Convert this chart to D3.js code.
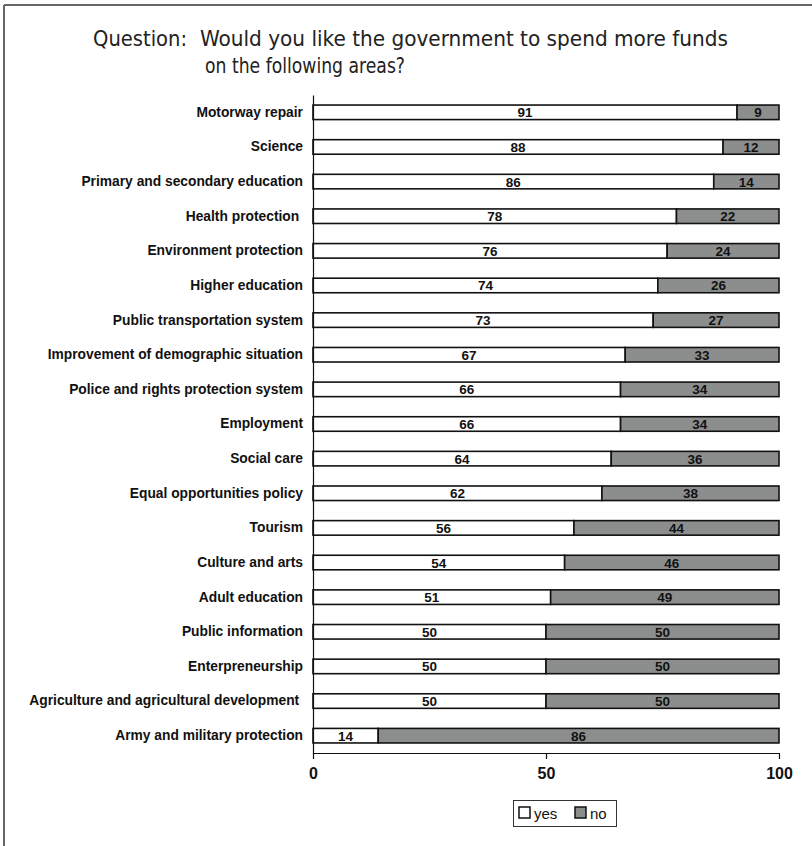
<!DOCTYPE html>
<html>
<head>
<meta charset="utf-8">
<script src="https://cdn.jsdelivr.net/npm/d3@7"></script>
<style>
  html, body { margin: 0; padding: 0; background: #fff; }
  svg { display: block; }
</style>
</head>
<body>
<svg id="chart" width="812" height="846"></svg>
<script>
const categories = [
  "Motorway repair",
  "Science",
  "Primary and secondary education",
  "Health protection ",
  "Environment protection",
  "Higher education",
  "Public transportation system",
  "Improvement of demographic situation",
  "Police and rights protection system",
  "Employment",
  "Social care",
  "Equal opportunities policy",
  "Tourism",
  "Culture and arts",
  "Adult education",
  "Public information",
  "Enterpreneurship",
  "Agriculture and agricultural development ",
  "Army and military protection"
];
const yesValues = [91, 88, 86, 78, 76, 74, 73, 67, 66, 66, 64, 62, 56, 54, 51, 50, 50, 50, 14];
const noValues  = [9, 12, 14, 22, 24, 26, 27, 33, 34, 34, 36, 38, 44, 46, 49, 50, 50, 50, 86];
const xTicks = [0, 50, 100];
const seriesNames = ["yes", "no"];
const seriesColors = ["#ffffff", "#8c8e8e"];
const titleLead = "Question:";
const titleLines = ["Would you like the government to spend more funds", "on the following areas?"];

const svg = d3.select("#chart");

// partial frame
svg.append("line").attr("x1", 4).attr("x2", 812).attr("y1", 5).attr("y2", 5)
  .attr("stroke", "#666").attr("stroke-width", 2);
svg.append("line").attr("x1", 4).attr("x2", 4).attr("y1", 5).attr("y2", 846)
  .attr("stroke", "#666").attr("stroke-width", 2);

// title
const titleFont = "'DejaVu Sans Condensed', 'Liberation Sans Narrow', sans-serif";
const tg = svg.append("g").attr("font-family", titleFont).attr("font-size", 21).attr("fill", "#222");
tg.append("text").attr("x", 93).attr("y", 46).text(titleLead)
  .attr("textLength", 94).attr("lengthAdjust", "spacingAndGlyphs");
tg.append("text").attr("x", 200).attr("y", 46).text(titleLines[0])
  .attr("textLength", 528).attr("lengthAdjust", "spacingAndGlyphs");
tg.append("text").attr("x", 205).attr("y", 73).text(titleLines[1])
  .attr("textLength", 200).attr("lengthAdjust", "spacingAndGlyphs");

const x = d3.scaleLinear().domain([0, 100]).range([313, 779]);
const y = d3.scaleBand().domain(categories).range([95, 753]).paddingInner(0.58).paddingOuter(0.29);

const font = "'Liberation Sans', Arial, sans-serif";

// bars
const stackData = categories.map((c, i) => ({cat: c, yes: yesValues[i], no: noValues[i]}));
const stack = d3.stack().keys(seriesNames)(stackData);

stack.forEach((layer, li) => {
  const g = svg.append("g");
  g.selectAll("rect").data(layer).enter().append("rect")
    .attr("x", d => x(d[0]))
    .attr("y", d => y(d.data.cat))
    .attr("width", d => x(d[1]) - x(d[0]))
    .attr("height", y.bandwidth())
    .attr("fill", seriesColors[li])
    .attr("stroke", "#111")
    .attr("stroke-width", 1.6);
  g.selectAll("text").data(layer).enter().append("text")
    .attr("x", d => (x(d[0]) + x(d[1])) / 2)
    .attr("y", d => y(d.data.cat) + y.bandwidth() / 2 + 5)
    .attr("text-anchor", "middle")
    .attr("font-family", font).attr("font-weight", "bold").attr("font-size", 13.5)
    .attr("fill", "#111")
    .text(d => d[1] - d[0]);
});

// y axis
const yAxis = svg.append("g").attr("transform", `translate(${x(0)},0)`)
  .call(d3.axisLeft(y).tickSize(0).tickPadding(10));
yAxis.select(".domain").attr("stroke", "#111").attr("stroke-width", 1.2);
yAxis.selectAll("text")
  .attr("font-family", font).attr("font-weight", "bold").attr("font-size", 13.8)
  .attr("fill", "#111").style("white-space", "pre");

// x axis
const xAxis = svg.append("g").attr("transform", `translate(0,753)`)
  .call(d3.axisBottom(x).tickValues(xTicks).tickSize(6).tickPadding(9).tickSizeOuter(0));
xAxis.select(".domain").attr("stroke", "#111").attr("stroke-width", 1.2);
xAxis.selectAll(".tick line").attr("stroke", "#111").attr("stroke-width", 1.2);
xAxis.selectAll("text")
  .attr("font-family", font).attr("font-weight", "bold").attr("font-size", 16)
  .attr("fill", "#111");

// legend
const lg = svg.append("g");
lg.append("rect").attr("x", 513.5).attr("y", 800.5).attr("width", 103).attr("height", 26)
  .attr("fill", "#fff").attr("stroke", "#333").attr("stroke-width", 1);
const legendX = [519, 575];
seriesNames.forEach((s, i) => {
  lg.append("rect").attr("x", legendX[i]).attr("y", 807).attr("width", 11).attr("height", 11)
    .attr("fill", seriesColors[i]).attr("stroke", "#111").attr("stroke-width", 1.5);
  lg.append("text").attr("x", legendX[i] + 15).attr("y", 819)
    .attr("font-family", font).attr("font-size", 15).attr("fill", "#111").text(s);
});
</script>
</body>
</html>
